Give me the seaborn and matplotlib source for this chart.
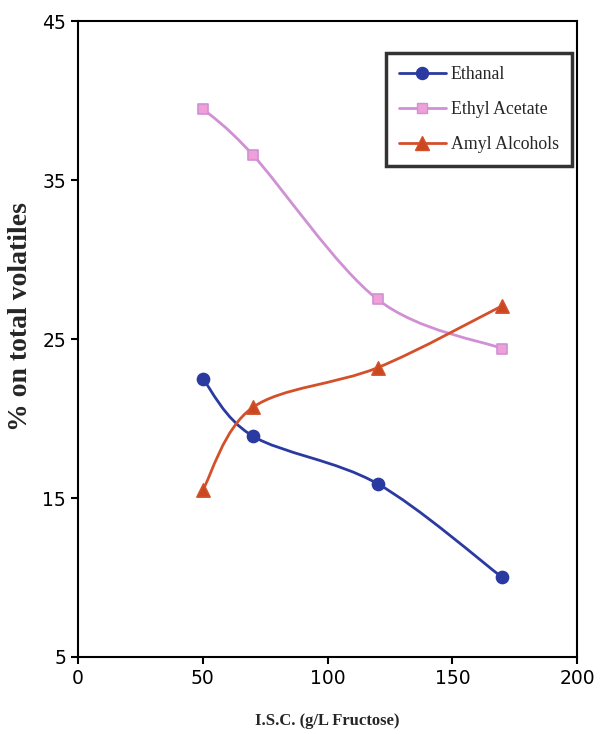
import numpy as np
import pandas as pd
import matplotlib
matplotlib.use('Agg')
import matplotlib.pyplot as plt
from matplotlib.path import Path
from matplotlib.patches import PathPatch
from matplotlib.lines import Line2D
import seaborn as sns

# ---------------------------------------------------------------------------
# Data
# ---------------------------------------------------------------------------
isc = [50, 70, 120, 170]
ethanal = [22.5, 18.9, 15.9, 10.0]
ethyl_acetate = [39.5, 36.6, 27.5, 24.4]
amyl_alcohols = [15.5, 20.7, 23.2, 27.1]

series_names = ['Ethanal', 'Ethyl Acetate', 'Amyl Alcohols']
series_values = [ethanal, ethyl_acetate, amyl_alcohols]

x_ticks = [0, 50, 100, 150, 200]
y_ticks = [5, 15, 25, 35, 45]

COLORS = {'Ethanal': '#2a3aa0', 'Ethyl Acetate': '#d090d4', 'Amyl Alcohols': '#d4502a'}
FACES = {'Ethanal': '#2a3aa0', 'Ethyl Acetate': '#f0a0d8', 'Amyl Alcohols': '#c9481f'}
MARKERS = {'Ethanal': 'o', 'Ethyl Acetate': 's', 'Amyl Alcohols': '^'}
SIZES = {'Ethanal': 75, 'Ethyl Acetate': 60, 'Amyl Alcohols': 90}


def smooth_path(xs, ys, tension=1 / 6):
    """Excel-like smoothed line: cubic Bezier through the data points."""
    pts = np.column_stack([xs, ys]).astype(float)
    verts = [pts[0]]
    codes = [Path.MOVETO]
    n = len(pts)
    for i in range(n - 1):
        p0 = pts[i - 1] if i > 0 else pts[i]
        p1, p2 = pts[i], pts[i + 1]
        p3 = pts[i + 2] if i + 2 < n else pts[i + 1]
        c1 = p1 + (p2 - p0) * tension
        c2 = p2 - (p3 - p1) * tension
        verts += [c1, c2, p2]
        codes += [Path.CURVE4] * 3
    return Path(verts, codes)


df = pd.DataFrame({
    'ISC': np.tile(isc, len(series_names)),
    'value': np.concatenate(series_values),
    'series': np.repeat(series_names, len(isc)),
})

sns.set_style('ticks')
plt.rcParams['font.family'] = ['DejaVu Sans']

fig = plt.figure(figsize=(6, 7.34), dpi=100)
ax = fig.add_axes([0.13, 0.105, 0.832, 0.866])

for name in series_names:
    sub = df[df['series'] == name]
    ax.add_patch(PathPatch(smooth_path(sub['ISC'], sub['value']), facecolor='none',
                           edgecolor=COLORS[name], linewidth=2, zorder=2))

for name in series_names:
    sub = df[df['series'] == name]
    sns.scatterplot(data=sub, x='ISC', y='value', marker=MARKERS[name], s=SIZES[name],
                    color=FACES[name], edgecolor=COLORS[name], linewidth=1.2,
                    ax=ax, legend=False, zorder=3)

ax.set_xlim(0, 200)
ax.set_ylim(5, 45)
ax.set_xticks(x_ticks)
ax.set_yticks(y_ticks)
ax.tick_params(direction='out', length=5, width=1.5, labelsize=13.5, colors='black')
for sp in ax.spines.values():
    sp.set_visible(True)
    sp.set_linewidth(1.5)
    sp.set_color('black')

ax.set_xlabel('I.S.C. (g/L Fructose)', family='Liberation Serif', fontweight='bold',
              fontsize=12, labelpad=18)
ax.set_ylabel('% on total volatiles', family='Liberation Serif', fontweight='bold',
              fontsize=20)
ax.yaxis.set_label_coords(-0.09, 0.536)

handles = [Line2D([0], [0], color=COLORS[n], lw=2, marker=MARKERS[n],
                  markersize=np.sqrt(SIZES[n]), markerfacecolor=FACES[n],
                  markeredgecolor=COLORS[n])
           for n in series_names]
leg = ax.legend(handles, series_names, loc='upper right', bbox_to_anchor=(0.99, 0.95),
                borderaxespad=0,
                prop={'family': 'Liberation Serif', 'size': 12.8}, frameon=True,
                fancybox=False, edgecolor='black', handlelength=2.6,
                labelspacing=1.0, borderpad=0.75, handletextpad=0.3)
leg.get_frame().set_linewidth(2.5)

fig.savefig('out.png', dpi=100)
